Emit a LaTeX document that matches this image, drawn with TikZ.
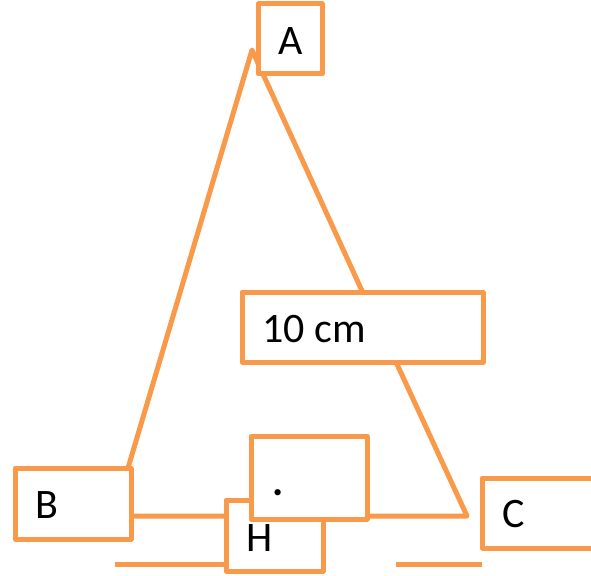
\documentclass[tikz,border=0pt]{standalone}
\usepackage{fontspec}
\setmainfont{Carlito}
\usetikzlibrary{backgrounds}
\definecolor{tri}{HTML}{F99A4A}
\tikzset{
	lbox/.style = {draw=tri, fill=white, line width=5pt, line join=round, inner sep=0, outer sep=0},
	ltext/.style = {font=\fontsize{42}{42}\selectfont, inner sep=0, text=black},
	edge/.style = {draw=tri, line width=5pt, line join=round}
}
\begin{document}
\begin{tikzpicture}[x=1pt, y=-1pt]
\useasboundingbox (0,0) rectangle (591,575);

% NODES
% boxes
\node (abox) [lbox, minimum width=64pt, minimum height=70pt] at (290,39) {};
\node (lenbox) [lbox, minimum width=241pt, minimum height=70pt] at (362.5,327) {};
\node (bbox) [lbox, minimum width=116pt, minimum height=71pt] at (73,503.5) {};
\node (cbox) [lbox, minimum width=140pt, minimum height=70pt] at (552,513) {};
\node (hbox) [lbox, minimum width=97pt, minimum height=71pt] at (274.5,535.5) {};
\node (dotbox) [lbox, minimum width=116pt, minimum height=83pt] at (309,477.5) {};
% labels
\node (alabel) [ltext] at (291,41) {A};
\node (lenlabel) [ltext, anchor=west] at (262,329) {10 cm};
\node (blabel) [ltext] at (47,505) {B};
\node (clabel) [ltext] at (514,514) {C};
\node (hlabel) [ltext] at (260,538) {H};
\node (dotlabel) [ltext] at (278,493) {\textbf{.}};
% free ends
\coordinate (apex) at (252,50);
\coordinate (basec) at (467,516);
\coordinate (lenout) at (396,362);
\coordinate (lowl) at (115,564);
\coordinate (lowr) at (396,564);

%CONNECTIONS
\begin{scope}[on background layer]
\draw [edge] ([xshift=-3pt]bbox.north east) -- (apex) -- (lenbox.north);
\draw [edge] (lenout) -- (basec) -- (bbox.east |- basec);
\draw [edge] (lowl) -- (hbox.west |- lowl);
\draw [edge] (lowr) -- (cbox.south west |- lowr);
\end{scope}

\end{tikzpicture}
\end{document}
